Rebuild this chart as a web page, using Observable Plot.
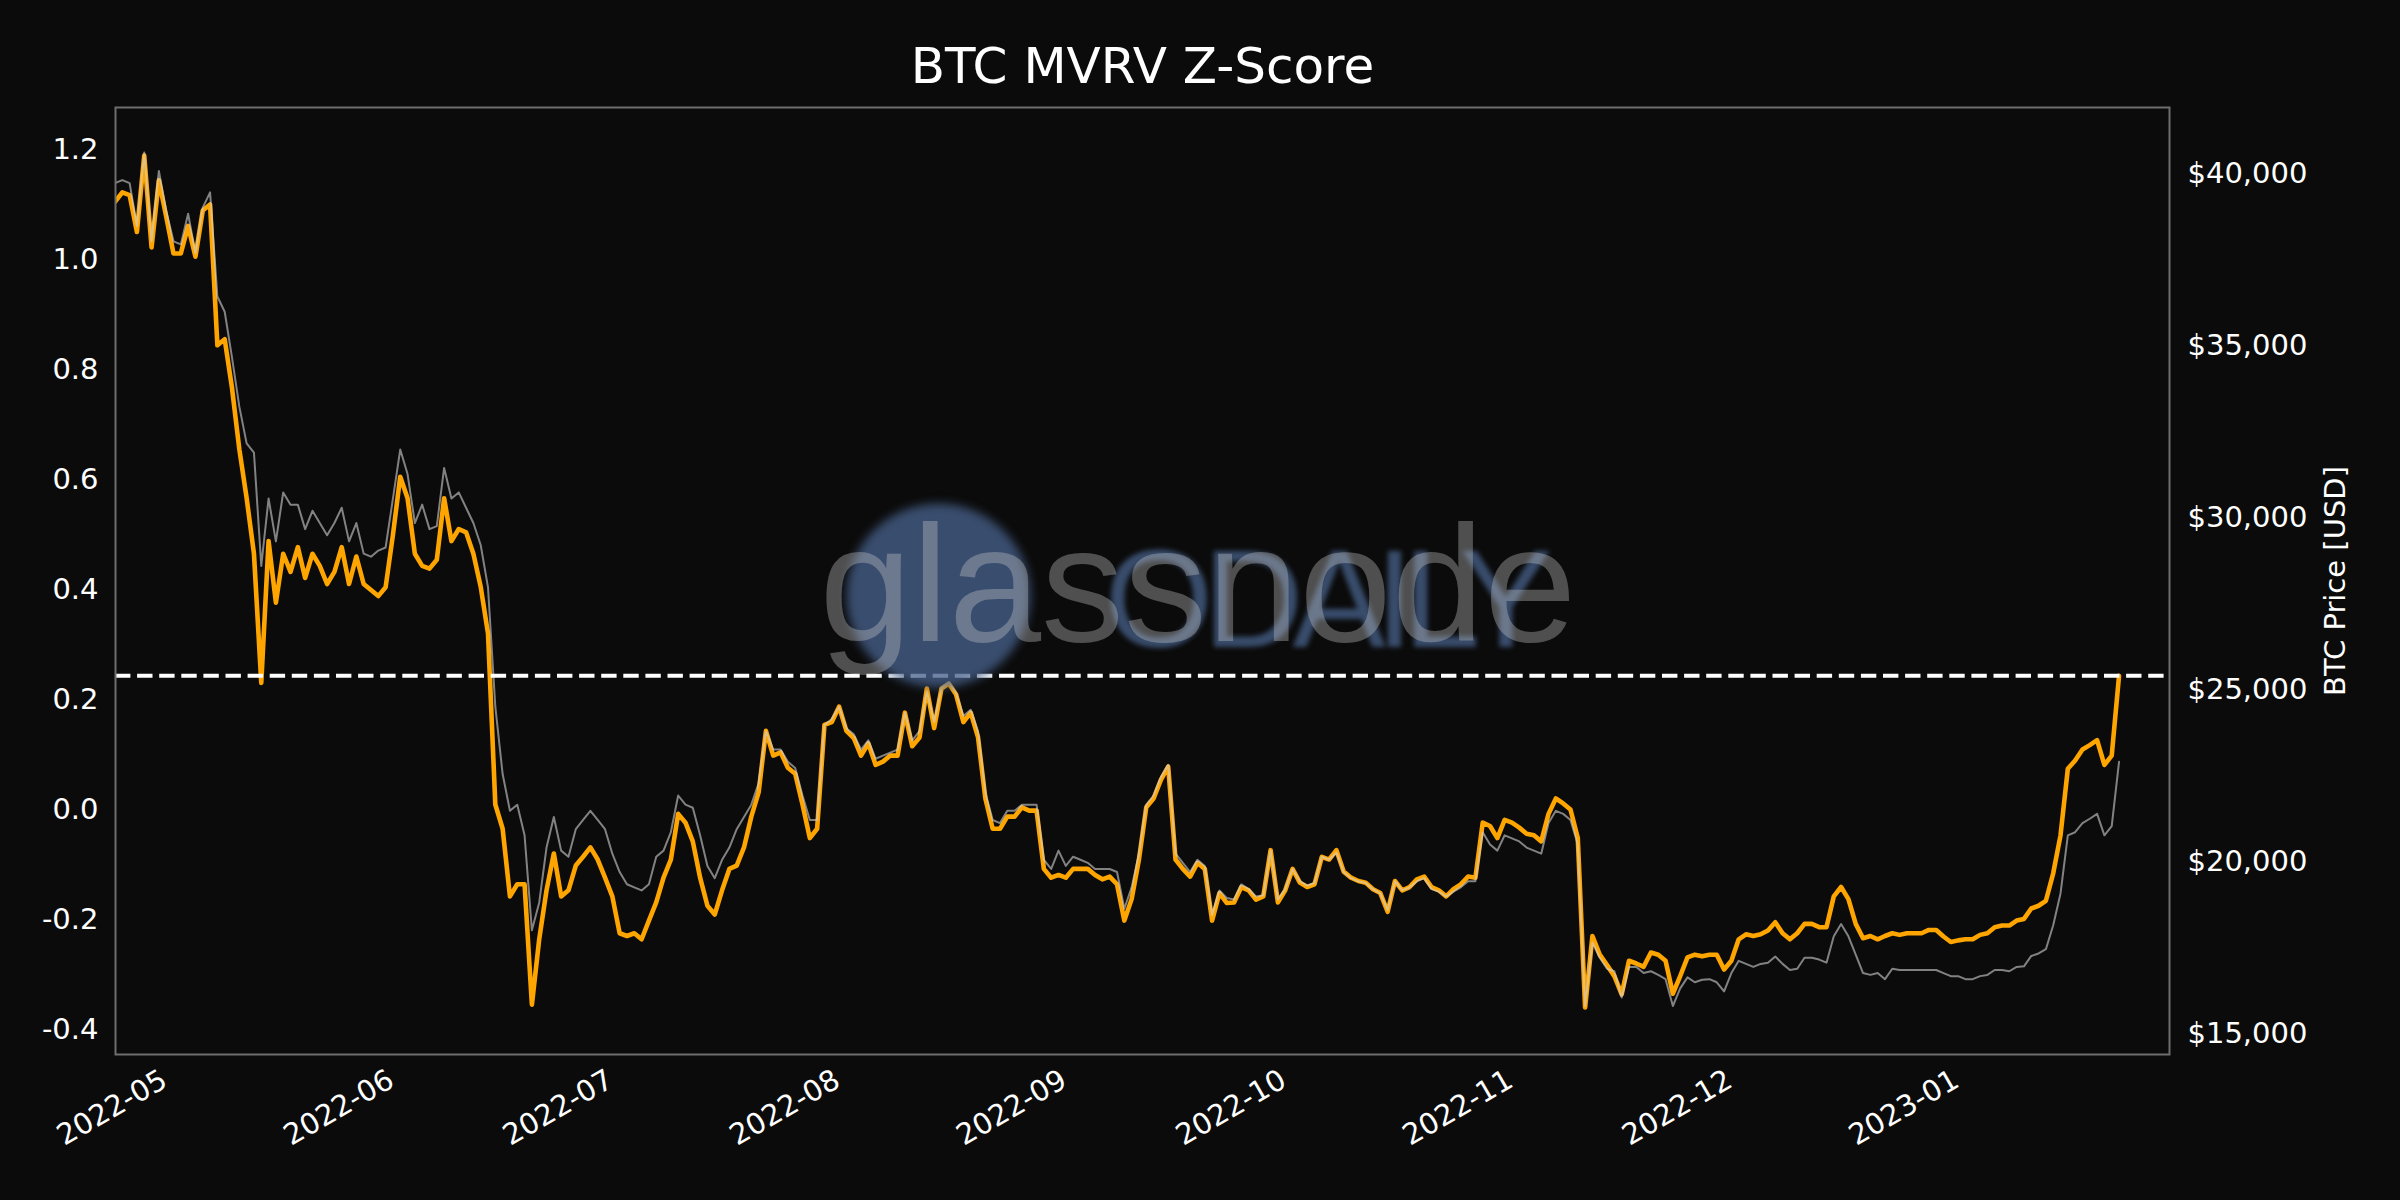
<!DOCTYPE html>
<html>
<head>
<meta charset="utf-8">
<script src="https://cdn.jsdelivr.net/npm/d3@7"></script>
<script src="https://cdn.jsdelivr.net/npm/@observablehq/plot@0.6"></script>
<style>
  html, body { margin: 0; padding: 0; background: #0b0b0b; }
  #chart svg { display: block; }
</style>
</head>
<body>
<div id="chart"></div>
<script>
// ---- Data (daily samples, first day 2022-04-23) ----
const firstDay = "2022-04-23";

const mvrvZ = [
  1.105, 1.122, 1.117, 1.050, 1.189, 1.022, 1.144, 1.078,
  1.011, 1.011, 1.061, 1.005, 1.089, 1.100, 0.844, 0.855, 0.766, 0.655,
  0.566, 0.465, 0.230, 0.488, 0.376, 0.465, 0.432, 0.477, 0.421, 0.465,
  0.443, 0.410, 0.432, 0.477, 0.410, 0.460, 0.410, 0.399, 0.388, 0.404,
  0.499, 0.605, 0.566, 0.465, 0.443, 0.438, 0.454, 0.566, 0.488, 0.510,
  0.504, 0.465, 0.405, 0.320, 0.009, -0.035, -0.158, -0.136, -0.136, -0.355,
  -0.236, -0.147, -0.080, -0.158, -0.147, -0.102, -0.086, -0.069, -0.091, -0.124,
  -0.158, -0.225, -0.230, -0.225, -0.236, -0.202, -0.169, -0.124, -0.091, -0.008,
  -0.024, -0.058, -0.124, -0.175, -0.191, -0.147, -0.108, -0.102, -0.069, -0.013,
  0.031, 0.143, 0.098, 0.104, 0.076, 0.065, 0.009, -0.052, -0.035, 0.154,
  0.159, 0.187, 0.143, 0.130, 0.098, 0.120, 0.081, 0.087, 0.098, 0.098,
  0.176, 0.115, 0.131, 0.220, 0.148, 0.220, 0.229, 0.209, 0.159, 0.176,
  0.131, 0.020, -0.035, -0.035, -0.013, -0.013, 0.004, -0.002, -0.002, -0.108,
  -0.124, -0.119, -0.124, -0.108, -0.108, -0.108, -0.119, -0.127, -0.122, -0.136,
  -0.202, -0.163, -0.091, 0.004, 0.020, 0.054, 0.078, -0.091, -0.108, -0.122,
  -0.097, -0.108, -0.202, -0.152, -0.170, -0.169, -0.141, -0.147, -0.164, -0.158,
  -0.074, -0.169, -0.147, -0.108, -0.133, -0.141, -0.136, -0.086, -0.091, -0.074,
  -0.113, -0.124, -0.130, -0.133, -0.145, -0.152, -0.186, -0.130, -0.147, -0.141,
  -0.127, -0.122, -0.141, -0.147, -0.158, -0.145, -0.136, -0.122, -0.124, -0.024,
  -0.030, -0.052, -0.019, -0.024, -0.033, -0.044, -0.047, -0.058, -0.008, 0.020,
  0.011, 0.000, -0.052, -0.360, -0.230, -0.264, -0.283, -0.303, -0.336, -0.275,
  -0.280, -0.286, -0.260, -0.264, -0.275, -0.335, -0.303, -0.269, -0.264, -0.267,
  -0.264, -0.264, -0.291, -0.275, -0.236, -0.227, -0.230, -0.227, -0.220, -0.205,
  -0.225, -0.236, -0.225, -0.208, -0.208, -0.214, -0.214, -0.158, -0.141, -0.163,
  -0.208, -0.234, -0.230, -0.236, -0.230, -0.225, -0.228, -0.225, -0.225, -0.225,
  -0.219, -0.219, -0.231, -0.241, -0.238, -0.236, -0.236, -0.228, -0.225, -0.214,
  -0.211, -0.211, -0.202, -0.199, -0.180, -0.175, -0.166, -0.116, -0.047, 0.074,
  0.089, 0.109, 0.117, 0.126, 0.081, 0.098, 0.243
];

const btcPrice = [
  39719, 39808, 39719, 38473, 40609, 38028, 40075, 38918,
  38028, 37939, 38829, 37672, 39007, 39452, 36426, 35981, 34646, 33222,
  32154, 31887, 28594, 30552, 29306, 30730, 30374, 30374, 29662, 30196,
  29840, 29484, 29840, 30285, 29306, 29840, 28950, 28861, 29039, 29128,
  30552, 31976, 31264, 29840, 30374, 29662, 29751, 31442, 30552, 30730,
  30285, 29840, 29200, 27970, 24500, 22542, 21474, 21652, 20762, 18000,
  18804, 20406, 21296, 20317, 20139, 20940, 21207, 21474, 21207, 20940,
  20228, 19694, 19338, 19249, 19160, 19338, 20139, 20317, 20851, 21919,
  21652, 21563, 20762, 19872, 19516, 20050, 20406, 20940, 21296, 21652,
  22275, 23788, 23254, 23254, 22898, 22720, 21919, 21207, 21207, 23966,
  24144, 24500, 23877, 23700, 23254, 23521, 22987, 23076, 23165, 23254,
  24322, 23521, 23788, 24945, 24055, 25034, 25212, 24892, 24233, 24411,
  23788, 22008, 21207, 21118, 21474, 21474, 21652, 21652, 21652, 20050,
  19783, 20317, 19872, 20139, 20050, 19961, 19783, 19783, 19783, 19694,
  18626, 19249, 20228, 21652, 21919, 22453, 22809, 20228, 19961, 19694,
  20050, 19872, 18448, 19160, 18940, 18893, 19338, 19196, 18982, 19018,
  20317, 18893, 19196, 19783, 19427, 19302, 19374, 20139, 20050, 20264,
  19694, 19516, 19427, 19374, 19196, 19071, 18590, 19427, 19160, 19249,
  19427, 19516, 19196, 19124, 18982, 19124, 19249, 19427, 19427, 20851,
  20495, 20317, 20762, 20673, 20584, 20406, 20317, 20228, 21118, 21474,
  21385, 21207, 20495, 15800, 17647, 17202, 16882, 16810, 16045, 16935,
  16935, 16757, 16810, 16704, 16579, 15800, 16312, 16632, 16490, 16561,
  16579, 16490, 16223, 16757, 17113, 17024, 16935, 17024, 17060, 17238,
  17024, 16846, 16882, 17202, 17202, 17149, 17060, 17825, 18181, 17825,
  17291, 16757, 16704, 16757, 16579, 16882, 16846, 16846, 16846, 16846,
  16846, 16846, 16757, 16668, 16668, 16579, 16579, 16668, 16704, 16846,
  16846, 16810, 16935, 16953, 17255, 17327, 17451, 18145, 19071, 20762,
  20851, 21118, 21243, 21385, 20762, 21029, 22898
];

const zTicks = [-0.4, -0.2, 0.0, 0.2, 0.4, 0.6, 0.8, 1.0, 1.2];
const priceTicks = [15000, 20000, 25000, 30000, 35000, 40000];
const monthTicks = ["2022-05-01", "2022-06-01", "2022-07-01", "2022-08-01", "2022-09-01",
  "2022-10-01", "2022-11-01", "2022-12-01", "2023-01-01"];

const titleText = "BTC MVRV Z-Score";
const rightLabel = "BTC Price [USD]";
const watermarkText = "glassnode";
const watermarkBlue = "ODAILY";

// ---- Scales / helpers ----
const zDomain = [-0.4455, 1.2764];
const priceDomain = [14390, 41919];
const toZ = d3.scaleLinear().domain(priceDomain).range(zDomain);
const DAY = 864e5;
const may1 = Date.UTC(2022, 4, 1);
const xDomain = [new Date(may1 - 7.93 * DAY), new Date(may1 + 272.9 * DAY)];

const t0 = new Date(firstDay + "T00:00:00Z");
const zData = mvrvZ.map((v, i) => ({date: d3.utcDay.offset(t0, i), v}));
const pData = btcPrice.map((v, i) => ({date: d3.utcDay.offset(t0, i), v}));
const lastZ = mvrvZ[mvrvZ.length - 1];

const font = "DejaVu Sans, Verdana, sans-serif";
const wmFont = "Liberation Sans, Arial, sans-serif";

const chart = Plot.plot({
  width: 2400,
  height: 1200,
  marginLeft: 115,
  marginRight: 231,
  marginTop: 107,
  marginBottom: 146,
  style: {background: "#0b0b0b", color: "white", fontFamily: font, fontSize: "29px", overflow: "visible"},
  x: {type: "utc", domain: xDomain},
  y: {domain: zDomain},
  marks: [
    Plot.line(zData, {x: "date", y: "v", stroke: "#FFA500", strokeWidth: 4.6, clip: true}),
    Plot.line(pData, {x: "date", y: d => toZ(d.v), stroke: "#d2d2d2", strokeOpacity: 0.6, strokeWidth: 2, clip: true}),
    Plot.ruleY([lastZ], {stroke: "white", strokeWidth: 4, strokeDasharray: "15.4,6.7"}),
    // watermark
    Plot.dot([0], {frameAnchor: "middle", dx: -204, dy: 14.5, r: 92, fill: "#46608a", fillOpacity: 0.78, stroke: null, ariaDescription: "wm-circle"}),
    Plot.text([watermarkBlue], {frameAnchor: "middle", dx: -38, dy: 66, textAnchor: "start", lineAnchor: "bottom",
      fontSize: 140, fontFamily: wmFont, fill: "#4a6590", fillOpacity: 0.72, ariaDescription: "wm-blue"}),
    Plot.text([watermarkText], {frameAnchor: "middle", dx: -323, dy: 60, textAnchor: "start", lineAnchor: "bottom",
      fontSize: 166, fontFamily: wmFont, fill: "#c8c8c8", fillOpacity: 0.36}),
    Plot.frame({stroke: "#6e6e6e", strokeWidth: 2}),
    Plot.axisY(zTicks, {anchor: "left", tickSize: 0, tickPadding: 17, label: null,
      tickFormat: d => (Math.abs(d) < 1e-9 ? 0 : d).toFixed(1), fontSize: 29, fill: "white"}),
    Plot.axisY(priceTicks.map(p => toZ(p)), {anchor: "right", tickSize: 0, tickPadding: 18, label: null,
      tickFormat: d => "$" + d3.format(",")(Math.round(toZ.invert(d))), fontSize: 29, fill: "white"}),
    Plot.axisX(monthTicks.map(s => new Date(s + "T00:00:00Z")), {anchor: "bottom", tickSize: 0, tickPadding: 23, tickRotate: -30,
      label: null, tickFormat: d3.utcFormat("%Y-%m"), fontSize: 29, fill: "white", dx: -9}),
    Plot.text([titleText], {frameAnchor: "top", dy: -41, lineAnchor: "middle", fontSize: 50, fill: "white"}),
    Plot.text([rightLabel], {frameAnchor: "right", dx: 166, rotate: -90, lineAnchor: "middle", textAnchor: "middle", fontSize: 29, fill: "white"})
  ]
});

chart.querySelectorAll('g[aria-description="wm-circle"]').forEach(g => g.style.filter = "blur(5px)");
chart.querySelectorAll('g[aria-description="wm-blue"]').forEach(g => {
  g.style.filter = "blur(2.5px)";
  g.querySelectorAll("text").forEach(t => t.style.letterSpacing = "-11px");
});
document.getElementById("chart").appendChild(chart);
</script>
</body>
</html>
